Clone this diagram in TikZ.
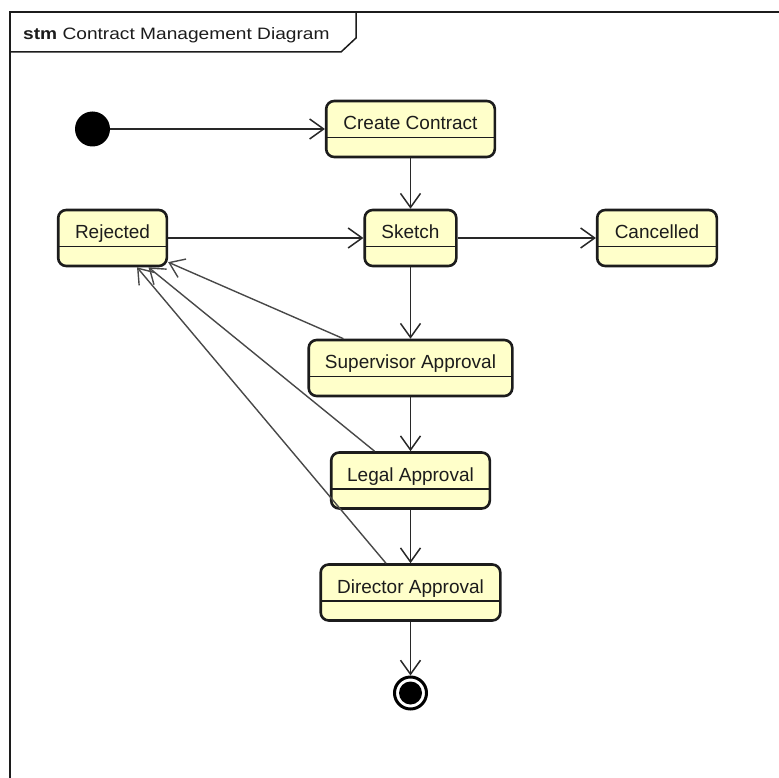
\documentclass[tikz,border=0pt]{standalone}
\usepackage{fontspec}
\setmainfont{Liberation Sans}
\newfontfamily\titlefont[FakeStretch=1.16]{Liberation Sans}
\usetikzlibrary{arrows.meta,calc}
\definecolor{statefill}{RGB}{255,255,202}
\definecolor{ink}{RGB}{28,28,28}
\definecolor{wire}{RGB}{40,40,40}

\begin{document}
\begin{tikzpicture}[x=1pt,y=-1pt,
  statebox/.style={draw=ink, fill=statefill, line width=2.6pt, rounded corners=8pt,
    minimum height=56pt, inner sep=0pt},
  statename/.style={font=\fontsize{19}{22}\selectfont, text=ink, inner sep=0pt, anchor=base},
  divider/.style={draw=ink, line width=1.5pt},
  flow/.style={draw=wire, line width=1.5pt,
    -{Straight Barb[length=14pt,width=20pt]}},
  back/.style={flow, draw=wire!85, line width=1.4pt}]
\useasboundingbox (0,0) rectangle (779,778);

% diagram frame, running off the page at right and bottom
\begin{scope}
  \clip (0,0) rectangle (779,778);
  \draw[line width=2pt, ink] (9.5,800) -- (9.5,12.5) -- (800,12.5);
\end{scope}
% name tab of the frame
\draw[line width=1.5pt, ink] (9.5,52) -- (341,52) -- (356,38) -- (356,12.5);
\node[anchor=west, inner sep=0pt, text=ink,
      font=\titlefont\fontsize{16.5}{20}\selectfont] (title) at (23,35.5)
  {\textbf{stm} Contract Management Diagram};

% pseudo states
\node[circle, fill=black, minimum size=35pt, inner sep=0pt] (init) at (92.5,129) {};
\node[circle, draw=black, line width=3pt, fill=white, minimum size=32pt, inner sep=0pt]
  (fin) at (410.5,693) {};
\node[circle, fill=black, minimum size=23pt, inner sep=0pt] (fin-core) at (fin) {};

% states: box, name in the upper compartment, compartment divider
\foreach \id/\x/\y/\w/\name in {
    cc/410.5/129/168.6/Create Contract,
    sk/410.5/238/91.6/Sketch,
    rej/112.5/238/108.6/Rejected,
    can/657/238/119.6/Cancelled,
    sup/410.5/368/203.6/Supervisor Approval,
    leg/410.5/480.5/158.6/Legal Approval,
    dir/410.5/592.5/179.6/Director Approval}{
  \node[statebox, minimum width=\w pt] (\id) at (\x,\y) {};
  \node[statename] (\id-name) at ($(\id.north)+(0,30)$) {\name};
  \draw[divider] ($(\id.north west)+(1.3,38)$) -- ($(\id.north east)+(-1.3,38)$);
}

% transitions
\draw[flow] (init) -- (cc);
\draw[flow] (cc) -- (sk);
\draw[flow] (rej) -- (sk);
\draw[flow] (sk) -- (can);
\draw[flow] (sk) -- (sup);
\draw[flow] (sup) -- (leg);
\draw[flow] (leg) -- (dir);
\draw[flow] (dir) -- (fin);
\draw[back] (sup) -- (rej);
\draw[back] (leg) -- (rej);
\draw[back] (dir) -- (rej);
\end{tikzpicture}
\end{document}
